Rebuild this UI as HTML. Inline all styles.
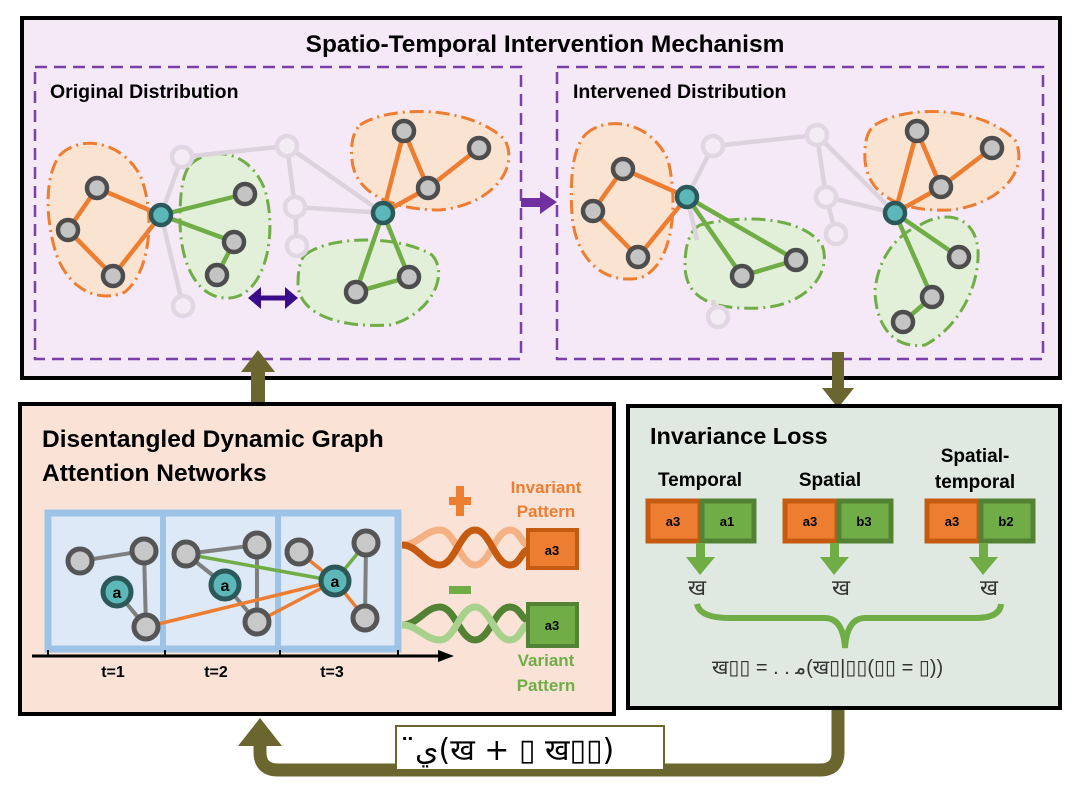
<!DOCTYPE html>
<html><head><meta charset="utf-8"><style>
html,body{margin:0;padding:0;background:#fff;}
svg{display:block;font-family:"Liberation Sans","DejaVu Sans",sans-serif;}
.b{font-weight:bold;}
</style></head><body>
<svg width="1086" height="786" viewBox="0 0 1086 786" xmlns="http://www.w3.org/2000/svg">
<defs>
<g id="gn"><circle r="10" fill="#c4c4c4" stroke="#4d4d4d" stroke-width="4.5"/></g>
<g id="fn"><circle r="10" fill="#f3ecf4" stroke="#e0d7e2" stroke-width="4.5"/></g>
<g id="tn"><circle r="10" fill="#5cb8b8" stroke="#2c5859" stroke-width="4.5"/></g>
<g id="gb"><circle r="12" fill="#c8c8c8" stroke="#555" stroke-width="5"/></g>
</defs>

<!-- Top box -->
<rect x="22" y="18" width="1038" height="360" fill="#f5e9f7" stroke="#000" stroke-width="4"/>
<text x="545" y="52" text-anchor="middle" class="b" font-size="24.5">Spatio-Temporal Intervention Mechanism</text>
<rect x="35" y="67" width="486" height="292" fill="none" stroke="#7a3fa8" stroke-width="2.5" stroke-dasharray="12,7"/>
<rect x="557" y="67" width="486" height="292" fill="none" stroke="#7a3fa8" stroke-width="2.5" stroke-dasharray="12,7"/>
<text x="50" y="98" class="b" font-size="19.5">Original Distribution</text>
<text x="573" y="98" class="b" font-size="19.5">Intervened Distribution</text>
<rect x="521" y="198" width="22" height="9" fill="#7030a0"/>
<polygon points="540,191 557,202 540,214" fill="#7030a0"/>

<g stroke-width="3" stroke-dasharray="14,5,2,5">
<path d="M60,155 C80,135 120,140 140,175 C155,210 152,270 125,292 C95,305 65,285 55,250 C45,215 45,175 60,155Z" fill="#fbe3d2" stroke="#ed7d31"/>
<path d="M190,165 C210,145 250,150 265,190 C278,235 265,295 230,298 C195,300 180,260 180,220 C180,195 182,175 190,165Z" fill="#e2efd9" stroke="#70ad47"/>
<path d="M360,125 C390,105 470,105 505,140 C520,170 490,205 440,210 C395,210 355,195 352,160 C350,140 355,130 360,125Z" fill="#fbe3d2" stroke="#ed7d31"/>
<path d="M305,255 C330,235 400,235 432,255 C450,275 430,315 390,325 C340,328 300,315 298,285 C298,270 300,260 305,255Z" fill="#e2efd9" stroke="#70ad47"/>
</g>
<g stroke="#dcd2dd" stroke-width="4.5">
<line x1="161" y1="215" x2="182" y2="157"/><line x1="161" y1="215" x2="183" y2="306"/>
<line x1="182" y1="157" x2="287" y2="146"/><line x1="287" y1="146" x2="295" y2="207"/>
<line x1="295" y1="207" x2="297" y2="246"/><line x1="287" y1="146" x2="383" y2="213"/>
<line x1="295" y1="207" x2="383" y2="213"/>
</g>
<g stroke="#ed7d31" stroke-width="4.5">
<line x1="97" y1="188" x2="161" y2="215"/><line x1="97" y1="188" x2="68" y2="230"/>
<line x1="68" y1="230" x2="113" y2="276"/><line x1="113" y1="276" x2="161" y2="215"/>
<line x1="383" y1="213" x2="404" y2="131"/><line x1="404" y1="131" x2="428" y2="188"/>
<line x1="428" y1="188" x2="479" y2="148"/><line x1="383" y1="213" x2="428" y2="188"/>
</g>
<g stroke="#70ad47" stroke-width="4.5">
<line x1="161" y1="215" x2="245" y2="194"/><line x1="161" y1="215" x2="234" y2="242"/>
<line x1="234" y1="242" x2="217" y2="275"/>
<line x1="383" y1="213" x2="356" y2="292"/><line x1="383" y1="213" x2="409" y2="277"/>
<line x1="356" y1="292" x2="409" y2="277"/>
</g>
<use href="#fn" x="182" y="157"/><use href="#fn" x="287" y="146"/><use href="#fn" x="295" y="207"/><use href="#fn" x="297" y="246"/><use href="#fn" x="183" y="306"/>
<use href="#gn" x="97" y="188"/><use href="#gn" x="68" y="230"/><use href="#gn" x="113" y="276"/>
<use href="#gn" x="245" y="194"/><use href="#gn" x="234" y="242"/><use href="#gn" x="217" y="275"/>
<use href="#gn" x="404" y="131"/><use href="#gn" x="479" y="148"/><use href="#gn" x="428" y="188"/>
<use href="#gn" x="356" y="292"/><use href="#gn" x="409" y="277"/>
<use href="#tn" x="161" y="215"/><use href="#tn" x="383" y="213"/>
<line x1="258" y1="298" x2="288" y2="298" stroke="#3a0a8a" stroke-width="5"/>
<polygon points="248,298 261,287 261,309" fill="#3a0a8a"/><polygon points="298,298 285,287 285,309" fill="#3a0a8a"/>

<g stroke-width="3" stroke-dasharray="14,5,2,5">
<path d="M585,135 C605,115 650,120 668,160 C678,200 675,265 640,278 C600,285 575,255 572,215 C570,180 572,150 585,135Z" fill="#fbe3d2" stroke="#ed7d31"/>
<path d="M700,225 C740,215 800,215 822,245 C832,270 810,305 760,308 C715,310 685,300 685,265 C685,245 690,230 700,225Z" fill="#e2efd9" stroke="#70ad47"/>
<path d="M875,125 C905,105 980,105 1015,140 C1030,170 1000,205 950,210 C905,212 868,198 865,160 C864,140 868,130 875,125Z" fill="#fbe3d2" stroke="#ed7d31"/>
<path d="M920,225 C945,210 975,215 978,250 C980,290 955,330 925,345 C890,350 875,320 875,290 C878,260 895,235 920,225Z" fill="#e2efd9" stroke="#70ad47"/>
</g>
<g stroke="#dcd2dd" stroke-width="4.5">
<line x1="687" y1="197" x2="713" y2="146"/><line x1="687" y1="197" x2="697" y2="240"/>
<line x1="713" y1="146" x2="817" y2="135"/><line x1="817" y1="135" x2="826" y2="197"/>
<line x1="826" y1="197" x2="836" y2="234"/><line x1="817" y1="135" x2="895" y2="213"/>
<line x1="826" y1="197" x2="895" y2="213"/><line x1="713" y1="300" x2="718" y2="317"/>
</g>
<g stroke="#ed7d31" stroke-width="4.5">
<line x1="623" y1="169" x2="687" y2="197"/><line x1="623" y1="169" x2="593" y2="211"/>
<line x1="593" y1="211" x2="638" y2="257"/><line x1="638" y1="257" x2="687" y2="197"/>
<line x1="895" y1="213" x2="917" y2="131"/><line x1="917" y1="131" x2="941" y2="187"/>
<line x1="941" y1="187" x2="992" y2="148"/><line x1="895" y1="213" x2="941" y2="187"/>
</g>
<g stroke="#70ad47" stroke-width="4.5">
<line x1="687" y1="197" x2="742" y2="276"/><line x1="687" y1="197" x2="796" y2="260"/>
<line x1="742" y1="276" x2="796" y2="260"/>
<line x1="895" y1="213" x2="959" y2="257"/><line x1="895" y1="213" x2="932" y2="297"/>
<line x1="932" y1="297" x2="903" y2="322"/>
</g>
<use href="#fn" x="713" y="146"/><use href="#fn" x="817" y="135"/><use href="#fn" x="826" y="197"/><use href="#fn" x="836" y="234"/><use href="#fn" x="718" y="317"/>
<use href="#gn" x="623" y="169"/><use href="#gn" x="593" y="211"/><use href="#gn" x="638" y="257"/>
<use href="#gn" x="742" y="276"/><use href="#gn" x="796" y="260"/>
<use href="#gn" x="917" y="131"/><use href="#gn" x="992" y="148"/><use href="#gn" x="941" y="187"/>
<use href="#gn" x="959" y="257"/><use href="#gn" x="932" y="297"/><use href="#gn" x="903" y="322"/>
<use href="#tn" x="687" y="197"/><use href="#tn" x="895" y="213"/>

<rect x="251" y="368" width="14" height="40" fill="#6b6630"/>
<polygon points="241,372 258,350 275,372" fill="#6b6630"/>
<rect x="832" y="352" width="12" height="38" fill="#6b6630"/>
<polygon points="822,388 838,408 854,388" fill="#6b6630"/>

<path d="M838,708 L838,752 Q838,770 820,770 L278,770 Q260,770 260,752 L260,742" fill="none" stroke="#6b6630" stroke-width="13"/>
<polygon points="238,746 260,718 282,746" fill="#6b6630"/>
<rect x="396" y="726" width="268" height="44" fill="#fff" stroke="#6b6630" stroke-width="2"/>
<text x="415" y="760" font-size="30" font-family="DejaVu Sans, sans-serif">ي̈(ख + ▯ ख▯▯)</text>

<rect x="20" y="404" width="594" height="310" fill="#fae3d6" stroke="#000" stroke-width="4"/>
<text x="42" y="447" class="b" font-size="24.5">Disentangled Dynamic Graph</text>
<text x="42" y="481" class="b" font-size="24.5">Attention Networks</text>
<rect x="48" y="513" width="350" height="136" fill="#dde9f6" stroke="#9dc3e6" stroke-width="7"/>
<line x1="163" y1="513" x2="163" y2="649" stroke="#9dc3e6" stroke-width="6"/>
<line x1="278" y1="513" x2="278" y2="649" stroke="#9dc3e6" stroke-width="6"/>
<g stroke="#7f7f7f" stroke-width="4">
<line x1="80" y1="561" x2="144" y2="551"/><line x1="144" y1="551" x2="146" y2="627"/><line x1="117" y1="592" x2="146" y2="627"/>
<line x1="186" y1="554" x2="257" y2="545"/><line x1="257" y1="545" x2="257" y2="622"/><line x1="186" y1="554" x2="225" y2="585"/><line x1="225" y1="585" x2="257" y2="622"/>
<line x1="366" y1="543" x2="365" y2="618"/>
</g>
<g stroke="#70ad47" stroke-width="3.5"><line x1="186" y1="554" x2="335" y2="581"/><line x1="335" y1="581" x2="366" y2="543"/></g>
<g stroke="#ed7d31" stroke-width="3.5"><line x1="146" y1="627" x2="335" y2="581"/><line x1="257" y1="622" x2="335" y2="581"/><line x1="299" y1="552" x2="335" y2="581"/><line x1="335" y1="581" x2="365" y2="618"/></g>
<use href="#gb" x="80" y="561"/><use href="#gb" x="144" y="551"/><use href="#gb" x="146" y="627"/>
<use href="#gb" x="186" y="554"/><use href="#gb" x="257" y="545"/><use href="#gb" x="257" y="622"/>
<use href="#gb" x="299" y="552"/><use href="#gb" x="366" y="543"/><use href="#gb" x="365" y="618"/>
<g font-weight="bold" font-size="16" text-anchor="middle">
<circle cx="117" cy="592" r="14" fill="#5cb8b8" stroke="#2c5859" stroke-width="5"/><text x="117" y="598">a</text>
<circle cx="225" cy="585" r="14" fill="#5cb8b8" stroke="#2c5859" stroke-width="5"/><text x="225" y="591">a</text>
<circle cx="335" cy="581" r="14" fill="#5cb8b8" stroke="#2c5859" stroke-width="5"/><text x="335" y="587">a</text>
</g>
<line x1="32" y1="656" x2="440" y2="656" stroke="#000" stroke-width="3"/>
<polygon points="438,650 454,656 438,662" fill="#000"/>
<g stroke="#000" stroke-width="2"><line x1="48" y1="650" x2="48" y2="656"/><line x1="165" y1="650" x2="165" y2="656"/><line x1="280" y1="650" x2="280" y2="656"/><line x1="398" y1="650" x2="398" y2="656"/></g>
<g class="b" font-size="16" text-anchor="middle"><text x="113" y="677">t=1</text><text x="216" y="677">t=2</text><text x="332" y="677">t=3</text></g>
<path d="M402,545 C418,545 425,530 440,530 C455,530 460,565 475,565 C490,565 495,530 510,530 C520,530 522,545 528,545" fill="none" stroke="#f4b183" stroke-width="7"/>
<path d="M402,545 C418,545 425,565 440,565 C455,565 460,530 475,530 C490,530 495,565 510,565 C520,565 522,550 528,550" fill="none" stroke="#c55a11" stroke-width="7"/>
<path d="M402,625 C418,625 425,607 440,607 C455,607 460,640 475,640 C490,640 495,607 510,607 C520,607 522,620 528,620" fill="none" stroke="#548235" stroke-width="7"/>
<path d="M402,625 C418,625 425,640 440,640 C455,640 460,607 475,607 C490,607 495,640 510,640 C520,640 522,625 528,625" fill="none" stroke="#a9d18e" stroke-width="7"/>
<rect x="528" y="530" width="49" height="38" fill="#ed7d31" stroke="#c55a11" stroke-width="4"/>
<text x="552" y="555" text-anchor="middle" class="b" font-size="13">a3</text>
<rect x="528" y="604" width="49" height="42" fill="#70ad47" stroke="#548235" stroke-width="4"/>
<text x="552" y="630" text-anchor="middle" class="b" font-size="13">a3</text>
<rect x="449" y="497" width="22" height="8" fill="#ed7d31"/><rect x="456" y="486" width="8" height="30" fill="#ed7d31"/>
<rect x="449" y="586" width="22" height="8" fill="#70ad47"/>
<g class="b" font-size="17" text-anchor="middle">
<text x="546" y="493" fill="#ed7d31">Invariant</text><text x="546" y="517" fill="#ed7d31">Pattern</text>
<text x="546" y="666" fill="#70ad47">Variant</text><text x="546" y="691" fill="#70ad47">Pattern</text>
</g>

<rect x="628" y="406" width="432" height="302" fill="#dfe9e2" stroke="#000" stroke-width="4"/>
<text x="650" y="444" class="b" font-size="23.5">Invariance Loss</text>
<g class="b" font-size="19" text-anchor="middle">
<text x="700" y="486">Temporal</text><text x="830" y="486">Spatial</text>
<text x="975" y="462">Spatial-</text><text x="975" y="488">temporal</text>
</g>
<g font-weight="bold" font-size="13" text-anchor="middle">
<rect x="648" y="501" width="52" height="40" fill="#ed7d31" stroke="#c55a11" stroke-width="5"/><rect x="702" y="501" width="52" height="40" fill="#70ad47" stroke="#548235" stroke-width="5"/>
<text x="673" y="526">a3</text><text x="727" y="526">a1</text>
<rect x="785" y="501" width="52" height="40" fill="#ed7d31" stroke="#c55a11" stroke-width="5"/><rect x="839" y="501" width="52" height="40" fill="#70ad47" stroke="#548235" stroke-width="5"/>
<text x="810" y="526">a3</text><text x="864" y="526">b3</text>
<rect x="927" y="501" width="52" height="40" fill="#ed7d31" stroke="#c55a11" stroke-width="5"/><rect x="981" y="501" width="52" height="40" fill="#70ad47" stroke="#548235" stroke-width="5"/>
<text x="952" y="526">a3</text><text x="1006" y="526">b2</text>
</g>
<g fill="#70ad47">
<rect x="696" y="543" width="9" height="16"/><polygon points="686,557 715,557 700,575"/>
<rect x="830" y="543" width="9" height="16"/><polygon points="820,557 849,557 834,575"/>
<rect x="979" y="543" width="9" height="16"/><polygon points="969,557 998,557 983,575"/>
</g>
<g font-size="22" fill="#333"><text x="688" y="595">ख</text><text x="832" y="595">ख</text><text x="980" y="595">ख</text></g>
<path d="M697,604 Q700,618 730,618 L825,618 Q843,618 845,648 Q847,618 865,618 L975,618 Q1000,618 1001,604" fill="none" stroke="#70ad47" stroke-width="6"/>
<text x="712" y="674" font-size="20" fill="#333">ख▯▯ =  . . ﻣ(ख▯|▯▯(▯▯ = ▯))</text>
</svg>
</body></html>
